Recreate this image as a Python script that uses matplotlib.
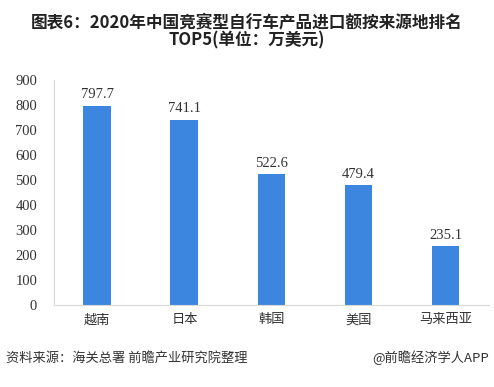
import matplotlib.pyplot as plt

plt.rcParams['font.family'] = ['Noto Sans CJK SC', 'DejaVu Sans']

countries = ['越南', '日本', '韩国', '美国', '马来西亚']
values = [797.7, 741.1, 522.6, 479.4, 235.1]
yticks = [0, 100, 200, 300, 400, 500, 600, 700, 800, 900]

fig = plt.figure(figsize=(4.94, 3.87), dpi=100)
ax = fig.add_axes([0.109, 0.212, 0.881, 0.581])

x = list(range(len(countries)))
ax.bar(x, values, width=0.32, color='#3C86DF', zorder=2)
for xi, v in zip(x, values):
    ax.text(xi, v + 18, f'{v:.1f}', ha='center', va='bottom', fontsize=10.5,
            family='Liberation Serif', color='#333333')

ax.set_xlim(-0.5, len(countries) - 0.5)
ax.set_ylim(0, 900)
ax.set_xticks(x)
ax.set_xticklabels(countries, fontsize=9.5, color='#333333')
ax.set_yticks(yticks)
ax.set_yticklabels([str(t) for t in yticks], fontsize=10.5, family='Liberation Serif', color='#333333')
ax.tick_params(length=0, pad=6)
ax.tick_params(axis='y', pad=12)

for s in ['top', 'right']:
    ax.spines[s].set_visible(False)
ax.spines['left'].set_color('#d9d9d9')
ax.spines['bottom'].set_color('#d9d9d9')

fig.text(0.5, 0.942, '图表6：2020年中国竞赛型自行车产品进口额按来源地排名', ha='center', va='center',
         fontsize=12, fontweight='bold', color='#222222')
fig.text(0.5, 0.895, 'TOP5(单位：万美元)', ha='center', va='center',
         fontsize=12, fontweight='bold', color='#222222')

fig.text(0.012, 0.075, '资料来源：海关总署 前瞻产业研究院整理', ha='left', va='center',
         fontsize=9.5, color='#333333')
fig.text(0.99, 0.075, '@前瞻经济学人APP', ha='right', va='center',
         fontsize=9.5, color='#333333')

fig.savefig('out.png', dpi=100)
